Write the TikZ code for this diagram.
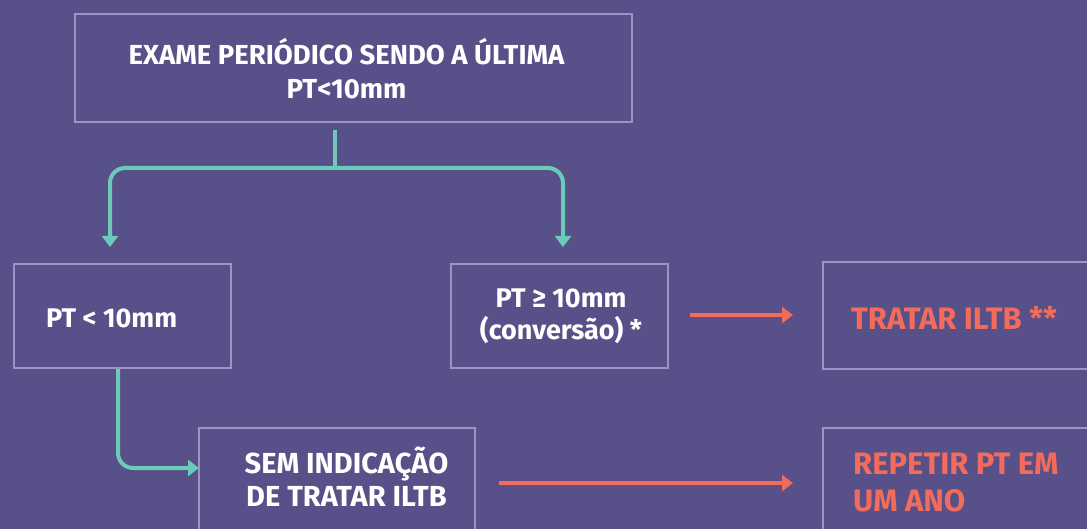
\documentclass[tikz,border=0pt]{standalone}
\usepackage{fontspec}
\setmainfont{Fira Sans}
\usetikzlibrary{arrows.meta}
\definecolor{bgc}{HTML}{585089}
\definecolor{edgec}{HTML}{9C94C2}
\definecolor{tealc}{HTML}{6CCBB8}
\definecolor{redc}{HTML}{F26B5B}
\newcommand{\fsz}[2]{\fontsize{#1}{#2}\selectfont\bfseries}
\tikzset{
  boxnode/.style={draw=edgec, line width=2pt, rectangle, inner sep=0pt},
  txtw/.style={text=white, inner sep=0pt, align=center},
  txtr/.style={text=redc, inner sep=0pt, align=left},
  tealarrow/.style={draw=tealc, line width=4pt, rounded corners=15pt, -{Triangle[width=16pt,length=11pt]}},
  tealline/.style={draw=tealc, line width=4pt},
  redarrow/.style={draw=redc, line width=4pt, -{Triangle[width=16pt,length=11pt]}}
}
\begin{document}
\begin{tikzpicture}[x=1pt,y=-1pt]
\fill[bgc] (0,0) rectangle (1087,529);
\useasboundingbox (0,0) rectangle (1087,529);
% boxes
\node[boxnode, minimum width=557pt, minimum height=108pt] (top) at (353.5,68.5) {};
\node[boxnode, minimum width=217pt, minimum height=104pt] (lt) at (122.5,316) {};
\node[boxnode, minimum width=217pt, minimum height=104pt] (ge) at (559,316) {};
\node[boxnode, minimum width=300pt, minimum height=106pt] (tr) at (973,315.5) {};
\node[boxnode, minimum width=276pt, minimum height=140pt] (sem) at (337,498) {};
\node[boxnode, minimum width=300pt, minimum height=140pt] (rep) at (973,498) {};
% texts
\node[txtw, font=\fsz{27.5}{34}] (toptxt) at (346.5,69) {EXAME PERIÓDICO SENDO A ÚLTIMA\\PT<10mm};
\node[txtw, font=\fsz{27}{34}, anchor=west] (lttxt) at (46,318) {PT < 10mm};
\node[txtw, font=\fsz{27}{32}] (getxt) at (561,316) {PT ≥ 10mm\\(conversão) *};
\node[txtr, font=\fsz{31}{36}, anchor=west] (trtxt) at (851,318) {TRATAR ILTB **};
\node[txtw, font=\fsz{29}{33}] (semtxt) at (346.5,476.5) {SEM INDICAÇÃO\\DE TRATAR ILTB};
\node[txtr, font=\fsz{31}{37}, anchor=west] (reptxt) at (853,483) {REPETIR PT EM\\UM ANO};
% connectors
\coordinate (stem) at (335,130);
\coordinate (split) at (335,168);
\coordinate (ltin) at (110,247);
\coordinate (gein) at (563,247);
\coordinate (ltout) at (118,369);
\coordinate (semin) at (199,468);
\coordinate (geout) at (690,315);
\coordinate (trin) at (793,315);
\coordinate (semout) at (499,483);
\coordinate (repin) at (793,483);
\draw[tealline] (stem) -- (split);
\draw[tealarrow] (split) -| (ltin);
\draw[tealarrow] (split) -| (gein);
\draw[tealarrow] (ltout) |- (semin);
\draw[redarrow] (geout) -- (trin);
\draw[redarrow] (semout) -- (repin);
\end{tikzpicture}
\end{document}
